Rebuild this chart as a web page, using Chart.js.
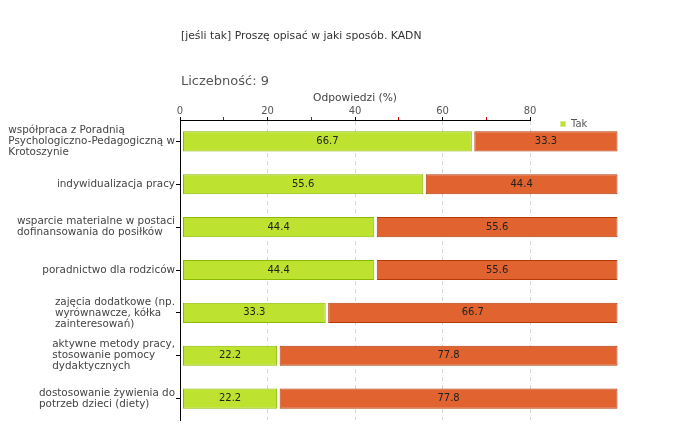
<!DOCTYPE html>
<html><head><meta charset="utf-8">
<script src="https://cdn.jsdelivr.net/npm/chart.js@4.4.0/dist/chart.umd.min.js"></script>
<style>html,body{margin:0;padding:0;background:#fff;}canvas{display:block}</style>
</head><body>
<canvas id="c" width="680" height="440"></canvas>
<script>
const titleText = '[jeśli tak] Proszę opisać w jaki sposób. KADN';
const countText = 'Liczebność: 9';
const axisTitle = 'Odpowiedzi (%)';
const categories = [
  ['współpraca z Poradnią', 'Psychologiczno-Pedagogiczną w', 'Krotoszynie'],
  ['indywidualizacja pracy'],
  ['wsparcie materialne w postaci', 'dofinansowania do posiłków'],
  ['poradnictwo dla rodziców'],
  ['zajęcia dodatkowe (np.', 'wyrównawcze, kółka', 'zainteresowań)'],
  ['aktywne metody pracy,', 'stosowanie pomocy', 'dydaktycznych'],
  ['dostosowanie żywienia do', 'potrzeb dzieci (diety)']
];
const seriesNames = ['Tak', 'Nie'];
const takValues = [66.7, 55.6, 44.4, 44.4, 33.3, 22.2, 22.2];
const nieValues = [33.3, 44.4, 55.6, 55.6, 66.7, 77.8, 77.8];
const axisMin = 0, axisMax = 80, minorStep = 10, majorStep = 20;

const FONT = '"DejaVu Sans", sans-serif';
Chart.defaults.font.family = FONT;

// small visual gap at the start of each bar segment
const segmentGap = {
  id: 'segmentGap',
  afterDatasetsUpdate(chart) {
    chart.data.datasets.forEach((ds, di) => {
      chart.getDatasetMeta(di).data.forEach(el => { el.base = el.base + 2.5; });
    });
  }
};

const textPlugin = {
  id: 'texts',
  afterDraw(chart) {
    const ctx = chart.ctx;
    const area = chart.chartArea;
    const ys = chart.scales.y;
    ctx.save();
    // titles
    ctx.textAlign = 'left';
    ctx.textBaseline = 'alphabetic';
    ctx.fillStyle = '#333';
    ctx.font = '10.8px ' + FONT;
    ctx.fillText(titleText, area.left + 1, 38.5);
    ctx.fillStyle = '#555';
    ctx.font = '13px ' + FONT;
    ctx.fillText(countText, area.left + 1, 85);
    // legend (first series only, as in the original)
    const ds = chart.data.datasets[0];
    const lx = area.right + 30, ly = area.top + 1;
    ctx.fillStyle = ds.backgroundColor;
    ctx.fillRect(lx, ly, 6, 6);
    ctx.strokeStyle = '#d8ec90';
    ctx.lineWidth = 1;
    ctx.strokeRect(lx + 0.5, ly + 0.5, 5, 5);
    ctx.fillStyle = '#555';
    ctx.font = '10px ' + FONT;
    ctx.textBaseline = 'middle';
    ctx.fillText(ds.label, lx + 11, ly + 3.5);
    // category labels: left-aligned block, right-aligned to the axis
    ctx.font = '10.4px ' + FONT;
    ctx.fillStyle = '#444';
    const lh = 11;
    const right = ys.right - 5;
    chart.data.labels.forEach((lines, i) => {
      const cy = ys.getPixelForValue(i);
      const w = Math.max(...lines.map(l => ctx.measureText(l).width));
      lines.forEach((l, k) => ctx.fillText(l, right - w, cy + (k - (lines.length - 1) / 2) * lh));
    });
    ctx.restore();
  },
  afterDatasetsDraw(chart) {
    const ctx = chart.ctx;
    ctx.save();
    ctx.font = '10px ' + FONT;
    ctx.fillStyle = '#222';
    ctx.textAlign = 'center';
    ctx.textBaseline = 'middle';
    chart.data.datasets.forEach((ds, di) => {
      chart.getDatasetMeta(di).data.forEach((el, i) => {
        ctx.fillText(ds.data[i].toFixed(1), (el.x + el.base) / 2, el.y);
      });
    });
    ctx.restore();
  }
};

new Chart(document.getElementById('c'), {
  type: 'bar',
  data: {
    labels: categories,
    datasets: [
      { label: seriesNames[0], data: takValues, backgroundColor: '#bde22f', borderColor: '#8cb800' },
      { label: seriesNames[1], data: nieValues, backgroundColor: '#e06330', borderColor: '#b43a08' }
    ]
  },
  options: {
    indexAxis: 'y',
    responsive: false,
    animation: false,
    devicePixelRatio: 1,
    layout: { padding: { top: 88, left: 0, right: 150, bottom: 20 } },
    datasets: { bar: { borderWidth: 1, borderSkipped: false, barPercentage: 0.47, categoryPercentage: 1, clip: false } },
    plugins: { legend: { display: false }, title: { display: false }, tooltip: { enabled: false } },
    scales: {
      x: {
        type: 'linear', position: 'top', stacked: true,
        min: axisMin, max: axisMax,
        afterFit: s => { s.height = 32; },
        ticks: {
          stepSize: minorStep, autoSkip: false, maxRotation: 0, padding: 0,
          color: '#555', font: { size: 10 },
          callback: v => (v % majorStep === 0 ? v : '')
        },
        grid: {
          color: c => (c.tick && c.tick.value > 0 && c.tick.value % majorStep === 0 ? '#d6d6d6' : 'rgba(0,0,0,0)'),
          tickColor: c => (c.tick && c.tick.value % majorStep === 0 ? '#000' : '#e00000'),
          tickLength: 3, lineWidth: 1
        },
        border: { color: '#000', width: 1, dash: [4, 4] },
        title: { display: true, text: axisTitle, color: '#444', font: { size: 10.7 }, padding: { top: 4, bottom: 0 } }
      },
      y: {
        type: 'category', stacked: true,
        afterFit: s => { s.width = 180; },
        ticks: { display: false },
        grid: { drawOnChartArea: false, drawTicks: true, tickLength: 4, tickColor: '#000', offset: false },
        border: { color: '#000', width: 1 }
      }
    }
  },
  plugins: [segmentGap, textPlugin]
});
</script>
</body></html>
